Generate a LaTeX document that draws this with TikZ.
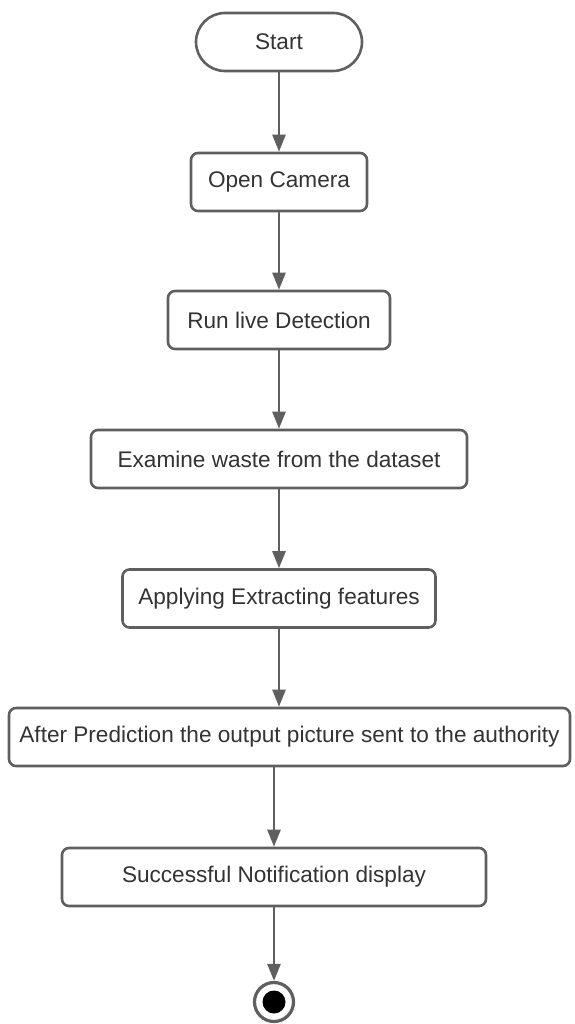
\documentclass[tikz,border=0pt]{standalone}
\usepackage{fontspec}
\setmainfont{Liberation Sans}
\usetikzlibrary{arrows.meta,calc}
\definecolor{linegray}{HTML}{5F5F5F}
\definecolor{txtgray}{HTML}{333333}
\begin{document}
\begin{tikzpicture}[x=1pt,y=-1pt,
  box/.style={draw=linegray, line width=2.6pt, rounded corners=7pt, fill=white,
    inner sep=0pt, text=txtgray, font=\fontsize{22.6}{26}\selectfont, minimum height=58pt},
  arr/.style={draw=linegray, line width=2.4pt, -{Triangle[length=17pt,width=13pt]}}]
\fill[white] (0,0) rectangle (574,1024);
\useasboundingbox (0,0) rectangle (574,1024);
\node[box, rounded corners=29pt, minimum width=166pt] (start) at (279,42) {Start};
\node[box, minimum width=176pt] (open) at (279,182) {Open Camera};
\node[box, minimum width=222pt] (run) at (279,320) {Run live Detection};
\node[box, minimum width=376pt] (exam) at (279,459) {Examine waste from the dataset};
\node[box, minimum width=313pt] (apply) at (279,598.5) {Applying Extracting features};
\node[box, minimum width=561pt] (after) at (289.5,737) {After Prediction the output picture sent to the authority};
\node[box, minimum width=424pt] (succ) at (274,877) {Successful Notification display};
\node[circle, draw=linegray, line width=3.2pt, minimum size=39pt, inner sep=0pt, fill=white] (end) at (274,1002) {};
\fill[black] (end.center) circle (11.5);
\draw[arr] (start.south) -- (open.north);
\draw[arr] (open.south) -- (run.north);
\draw[arr] (run.south) -- (exam.north);
\draw[arr] (exam.south) -- (exam.south |- apply.north);
\draw[arr] (apply.south) -- (apply.south |- after.north);
\draw[arr] (after.south -| succ.north) -- (succ.north);
\draw[arr] (succ.south) -- (end.north);
\end{tikzpicture}
\end{document}
